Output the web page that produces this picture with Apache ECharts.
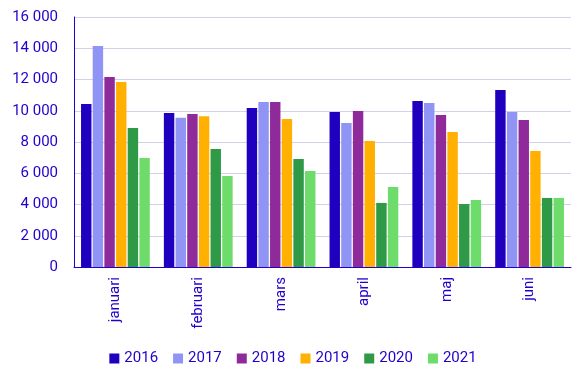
<!DOCTYPE html>
<html><head><meta charset="utf-8">
<script src="https://cdn.jsdelivr.net/npm/echarts@6/dist/echarts.min.js"></script>
<style>html,body{margin:0;padding:0;background:#fff}#c{width:586px;height:380px}</style>
</head><body><div id="c"></div>
<script>
const categories = ['januari','februari','mars','april','maj','juni'];
const seriesNames = ['2016','2017','2018','2019','2020','2021'];
const v2016 = [10430, 9860, 10180, 9920, 10620, 11330];
const v2017 = [14150, 9560, 10560, 9220, 10500, 9920];
const v2018 = [12160, 9790, 10560, 9980, 9730, 9410];
const v2019 = [11840, 9650, 9470, 8060, 8640, 7420];
const v2020 = [8900, 7550, 6910, 4100, 4030, 4420];
const v2021 = [6980, 5830, 6140, 5120, 4290, 4420];
const values = [v2016, v2017, v2018, v2019, v2020, v2021];
const colors = ['#1f00bf', '#8f94f5', '#8e2a9a', '#ffb000', '#2e9a48', '#6edc6a'];
const textColor = '#2200cc';
const fmt = v => String(v).replace(/\B(?=(\d{3})+(?!\d))/g, ' ');
const chart = echarts.init(document.getElementById('c'), null, {renderer:'canvas'});
chart.setOption({
  animation:false,
  textStyle:{fontFamily:'Roboto'},
  grid:{left:74, right:15, top:17, bottom:113},
  legend:{
    top:346, left:'center', itemWidth:10, itemHeight:10, itemGap:15,
    icon:'rect',
    textStyle:{color:textColor, fontSize:15, fontFamily:'Roboto'},
    data:seriesNames
  },
  xAxis:{
    type:'category', data:categories,
    axisLine:{lineStyle:{color:textColor}},
    axisTick:{length:5, lineStyle:{color:textColor}},
    axisLabel:{rotate:90, color:textColor, fontSize:15, margin:10, fontFamily:'Roboto'}
  },
  yAxis:{
    type:'value', min:0, max:16000, interval:2000,
    axisLine:{show:true, lineStyle:{color:textColor}},
    axisTick:{show:false},
    axisLabel:{color:textColor, fontSize:15, margin:16, formatter:fmt, fontFamily:'Roboto'},
    splitLine:{lineStyle:{color:'#d3d0ec', width:1}}
  },
  series: seriesNames.map((n,i)=>({
    name:n, type:'bar', data:values[i],
    itemStyle:{color:colors[i]},
    barGap:'12%', barCategoryGap:'17%'
  }))
});
</script></body></html>
